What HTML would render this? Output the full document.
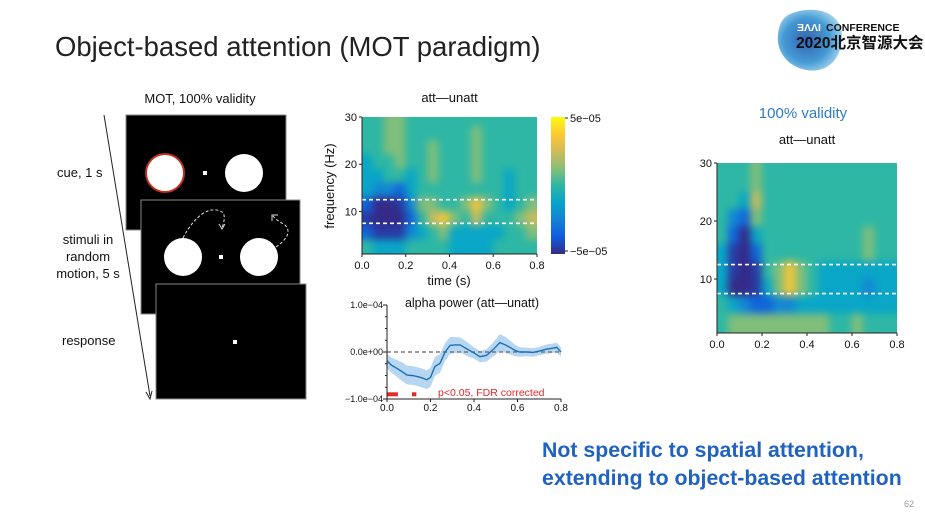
<!DOCTYPE html>
<html><head><meta charset="utf-8">
<style>
html,body{margin:0;padding:0;background:#fff;}
svg{display:block;font-family:"Liberation Sans","Noto Sans CJK SC",sans-serif;}
.blurred{filter:blur(4px);}
</style></head>
<body>
<svg id="s" width="925" height="513" viewBox="0 0 925 513" xmlns="http://www.w3.org/2000/svg">
<defs>
  <linearGradient id="parula" x1="0" y1="1" x2="0" y2="0">
    <stop offset="0" stop-color="#352a87"/><stop offset="0.125" stop-color="#0f5cdd"/>
    <stop offset="0.25" stop-color="#1481d6"/><stop offset="0.375" stop-color="#06a4ca"/>
    <stop offset="0.5" stop-color="#2eb7a4"/><stop offset="0.625" stop-color="#87bf77"/>
    <stop offset="0.75" stop-color="#d1bb59"/><stop offset="0.875" stop-color="#fec832"/>
    <stop offset="1" stop-color="#f9fb0e"/>
  </linearGradient>
  <radialGradient id="logoG" cx="0.45" cy="0.5" r="0.6">
    <stop offset="0" stop-color="#1f4fa8"/><stop offset="0.6" stop-color="#2f8fd0"/><stop offset="1" stop-color="#a9d8f0"/>
  </radialGradient>
  <clipPath id="clipM"><rect x="362" y="117" width="175" height="137"/></clipPath>
  <clipPath id="clipR"><rect x="717" y="163" width="180" height="170"/></clipPath>
</defs>

<text x="55" y="56" font-size="27.5" fill="#222">Object-based attention (MOT paradigm)</text>

<g>
  <path d="M790 14 C815 4 842 12 842 36 C842 60 826 74 806 70 C786 66 776 50 778 34 C779 24 783 17 790 14Z" fill="url(#logoG)" opacity="0.9"/>
  <text x="797" y="31" font-size="10.5" font-weight="bold" fill="#fff">ƎΛΛI</text>
  <text x="826" y="31" font-size="10.5" font-weight="bold" fill="#111">CONFERENCE</text>
  <text x="796" y="48" font-size="15.5" font-weight="bold" fill="#111">2020北京智源大会</text>
</g>

<g>
  <text x="200" y="103" font-size="13" text-anchor="middle" fill="#111">MOT, 100% validity</text>
  <line x1="104" y1="115" x2="150" y2="396" stroke="#222" stroke-width="1"/>
  <path d="M146 392 L150 399 L152 391" fill="none" stroke="#222" stroke-width="1"/>
  <text x="57" y="177" font-size="13" fill="#111">cue, 1 s</text>
  <text x="88" y="244" font-size="13" text-anchor="middle" fill="#111">stimuli in</text>
  <text x="88" y="261" font-size="13" text-anchor="middle" fill="#111">random</text>
  <text x="88" y="278" font-size="13" text-anchor="middle" fill="#111">motion, 5 s</text>
  <text x="62" y="345" font-size="13" fill="#111">response</text>
  <g>
    <rect x="126" y="115" width="160" height="115" fill="#000" stroke="#888" stroke-width="1"/>
    <circle cx="165" cy="173" r="19" fill="#fff" stroke="#c0301c" stroke-width="2"/>
    <circle cx="244" cy="173" r="19" fill="#fff"/>
    <rect x="203" y="171" width="4" height="4" fill="#fff"/>
  </g>
  <g>
    <rect x="141" y="200" width="159" height="114" fill="#000" stroke="#888" stroke-width="1"/>
    <circle cx="183" cy="257" r="19" fill="#fff"/>
    <circle cx="259" cy="257" r="19" fill="#fff"/>
    <rect x="219" y="255" width="4" height="4" fill="#fff"/>
    <path d="M183 238 C195 215 210 205 222 212 C226 215 224 222 222 228" fill="none" stroke="#ddd" stroke-width="1" stroke-dasharray="3,2"/>
    <path d="M219 224 L222 229 L225 224" fill="none" stroke="#ddd" stroke-width="1"/>
    <path d="M276 247 C286 240 292 232 285 225 C280 222 276 220 273 216" fill="none" stroke="#ddd" stroke-width="1" stroke-dasharray="3,2"/>
    <path d="M272 221 L272 215 L278 215" fill="none" stroke="#ddd" stroke-width="1"/>
  </g>
  <g>
    <rect x="156" y="284" width="150" height="115" fill="#000" stroke="#888" stroke-width="1"/>
    <rect x="233" y="340" width="4" height="4" fill="#fff"/>
  </g>
</g>

<g id="midHeat"></g>
<g id="lineChart"></g>
<g id="rightHeat"></g>

<text x="803" y="118" font-size="15" text-anchor="middle" fill="#2d7cc8">100% validity</text>

<text x="542" y="457" font-size="21.3" font-weight="bold" fill="#1f62c0">Not specific to spatial attention,</text>
<text x="542" y="485" font-size="21.3" font-weight="bold" fill="#1f62c0">extending to object-based attention</text>
<text x="909" y="507" font-size="9" fill="#999" text-anchor="middle">62</text>
</svg>

<script>
const NS = "http://www.w3.org/2000/svg";
const timeEdges = [0,0.05,0.1,0.15,0.2,0.25,0.3,0.35,0.4,0.45,0.5,0.55,0.6,0.65,0.7,0.75,0.8];
const freqEdges = [30,28,25,22,19,16,13,10,7,4,1];
const heatTickX = ["0.0","0.2","0.4","0.6","0.8"];
const heatTickY = [10,20,30];
const bandFreqs = [12.5,7.5];
const midValues = [
 [0,0,1,1,0,0,0,0,0,0,0,0,0,0,0,0],
 [0,0,1,1,0,0,0,0,0,0,1,0,0,0,0,0],
 [0,0,1,1,0,0,1,0,0,0,1,0,0,0,0,0],
 [-1,0,0,1,0,0,1,0,0,0,1,0,0,0,0,0],
 [-1,-1,0,0,-1,0,1,0,0,0,1,0,0,-1,0,0],
 [-1,-2,-2,-3,-1,0,0,0,0,0,0,0,0,-1,0,0],
 [-3,-5,-5,-4,-2,1,1,0,0,1,3,1,0,-1,0,1],
 [-4,-5,-5,-5,-3,0,2,3,1,0,2,0,0,0,1,2],
 [-3,-4,-4,-4,-2,-1,0,1,-1,-1,-1,-1,-1,0,0,1],
 [0,-1,-1,-1,0,0,0,0,-1,-1,-1,-1,0,0,0,0]
];
const rightValues = [
 [0,0,0,1,0,0,0,0,0,0,0,0,0,0,0,0],
 [0,0,0,1,0,0,0,0,0,0,0,0,0,0,0,0],
 [0,0,-1,2,0,0,0,0,0,0,0,0,0,0,0,0],
 [0,-2,-3,1,0,0,0,0,0,0,0,0,0,0,0,0],
 [0,-3,-5,-1,0,0,0,0,0,0,0,0,0,1,0,0],
 [-1,-4,-5,-3,0,0,0,0,0,0,0,0,0,1,0,0],
 [-1,-4,-5,-4,0,1,3,1,0,-1,-1,-1,-1,-1,-1,-1],
 [-1,-5,-5,-4,-1,1,3,1,0,-1,-1,-1,-1,-2,-1,-1],
 [0,-1,-2,-3,-3,-2,-2,-1,-1,-1,-1,-1,-1,-1,-1,-1],
 [0,1,1,1,1,1,1,1,1,1,0,0,1,0,0,0]
];
const lineTimes = [0,0.02,0.046,0.07,0.092,0.115,0.137,0.16,0.183,0.2,0.22,0.244,0.267,0.29,0.31,0.336,0.366,0.4,0.427,0.458,0.49,0.519,0.545,0.565,0.59,0.61,0.64,0.672,0.7,0.733,0.763,0.78,0.8];
const lineValues = [-1.9,-2.8,-3.5,-4.2,-4.9,-5.0,-5.2,-5.5,-5.9,-5.4,-3.1,-2.4,0,1.4,1.5,1.5,0.7,-0.2,-1.0,-0.7,0.6,2.0,1.5,1.0,0.3,0,0,-0.1,0.2,0.6,0.8,1.0,0];
const lineErr = [1.5,1.6,1.8,2.0,2.0,2.0,2.0,2.0,2.0,2.0,2.0,2.0,1.9,1.8,1.7,1.6,1.5,1.2,1.2,1.3,1.5,1.8,1.7,1.5,1.2,1.0,0.9,0.9,0.9,1.0,1.0,1.0,1.0];
const sigSpans = [[0,0.05],[0.115,0.135]];
const lineTickX = ["0.0","0.2","0.4","0.6","0.8"];
const lineTickY = ["1.0e\u221204","0.0e+00","\u22121.0e\u221204"];
const lineTickYVals = [10,0,-10];

const stops = [[53,42,135],[15,92,221],[20,129,214],[6,164,202],[46,183,164],[135,191,119],[209,187,89],[254,200,50],[249,251,14]];
function parula(v){
  let t=(v*1.15+5)/10; t=Math.max(0,Math.min(1,t))*8;
  const i=Math.min(7,Math.floor(t)), f=t-i, a=stops[i], b=stops[i+1];
  return "rgb("+a.map((c,k)=>Math.round(c+(b[k]-c)*f)).join(",")+")";
}
function mk(tag, attrs, parent){
  const e=document.createElementNS(NS,tag);
  for(const k in attrs) e.setAttribute(k,attrs[k]);
  parent.appendChild(e); return e;
}
function txt(parent,x,y,s,size,anchor,fill){
  const t=mk("text",{x:x,y:y,"font-size":size,"text-anchor":anchor||"middle",fill:fill||"#111"},parent);
  t.textContent=s; return t;
}

function heatmap(gId, values, box, clipId, opts){
  const g=document.getElementById(gId);
  const x=t=>box.x0+t/0.8*(box.x1-box.x0);
  const y=f=>box.yb+(f-box.fb)/(30-box.fb)*(box.y30-box.yb);
  const cells=mk("g",{"clip-path":"url(#"+clipId+")"},g);
  
  
  const inner=mk("g",{"class":"blurred"},cells);
  mk("rect",{x:box.x0-12,y:y(30)-12,width:box.x1-box.x0+24,height:y(box.fb)-y(30)+24,fill:parula(0)},inner);
  for(let r=0;r<values.length;r++){
    for(let c=0;c<values[r].length;c++){
      let x0=x(timeEdges[c]), x1=x(timeEdges[c+1]);
      let y0=y(Math.min(30,freqEdges[r])), y1=y(Math.max(box.fb,freqEdges[r+1]));
      if(c===0) x0-=12; if(c===values[r].length-1) x1+=12;
      if(r===0) y0-=12; if(r===values.length-1) y1+=12;
      const cell=mk("rect",{x:x0-0.3,y:y0-0.3,width:x1-x0+0.6,height:y1-y0+0.6,fill:parula(values[r][c])},inner);
      
      
    }
  }
  bandFreqs.forEach(f=>{
    const l=mk("line",{x1:box.x0,x2:box.x1,y1:y(f),y2:y(f),stroke:"#fff","stroke-width":1.6,"stroke-dasharray":"4,3"},g);
    
    
  });
  const ax=mk("g",{},g);
  
  
  mk("line",{x1:box.x0,x2:box.x0,y1:y(30),y2:y(box.fb),stroke:"#222","stroke-width":1},ax);
  mk("line",{x1:box.x0,x2:box.x1,y1:y(box.fb),y2:y(box.fb),stroke:"#222","stroke-width":1},ax);
  heatTickX.forEach(s=>{
    const xx=x(parseFloat(s));
    mk("line",{x1:xx,x2:xx,y1:y(box.fb),y2:y(box.fb)+3,stroke:"#222"},ax);
    const t=txt(ax,xx,y(box.fb)+15,s,11);
    
    
  });
  heatTickY.forEach(v=>{
    mk("line",{x1:box.x0-3,x2:box.x0,y1:y(v),y2:y(v),stroke:"#222"},ax);
    const t=txt(ax,box.x0-5,y(v)+4,String(v),11,"end");
    
    
  });
  const tt=txt(g,(box.x0+box.x1)/2,opts.titleY,"att\u2014unatt",13);
  
  
}

const midBox={x0:362,x1:537,y30:117,yb:254,fb:1};
heatmap("midHeat",midValues,midBox,"clipM",{titleY:102});
(function(){
  const g=document.getElementById("midHeat");
  const xl=txt(g,449,285,"time (s)",13);
  
  
  const yl=txt(g,0,0,"frequency (Hz)",13);
  yl.setAttribute("transform","translate(334,186) rotate(-90)");
  
  
  const cb=mk("rect",{x:551,y:117,width:14,height:137,fill:"url(#parula)"},g);
  
  
  mk("line",{x1:565,x2:568,y1:118,y2:118,stroke:"#222"},g);
  mk("line",{x1:565,x2:568,y1:251,y2:251,stroke:"#222"},g);
  const c1=txt(g,570,122,"5e\u221205",11,"start");
  
  
  const c2=txt(g,570,255,"\u22125e\u221205",11,"start");
  
  
})();

const rightBox={x0:717,x1:897,y30:163,yb:333,fb:0.7};
heatmap("rightHeat",rightValues,rightBox,"clipR",{titleY:144});

(function(){
  const g=document.getElementById("lineChart");
  const X0=387,X1=561,Ytop=305,Ybot=399;
  const x=t=>X0+t/0.8*(X1-X0);
  const y=v=>Ybot+(v+10)/20*(Ytop-Ybot);
  let up="";
  lineTimes.forEach((t,i)=>{up+=(i?"L":"M")+x(t)+" "+y(lineValues[i]+lineErr[i]);});
  for(let i=lineTimes.length-1;i>=0;i--) up+="L"+x(lineTimes[i])+" "+y(lineValues[i]-lineErr[i]);
  const band=mk("path",{d:up+"Z",fill:"#a9cfee",opacity:0.85},g);
  
  
  const zl=mk("line",{x1:X0,x2:X1,y1:y(0),y2:y(0),stroke:"#666","stroke-width":1.3,"stroke-dasharray":"4,3"},g);
  
  
  let d="";
  lineTimes.forEach((t,i)=>{d+=(i?"L":"M")+x(t)+" "+y(lineValues[i]);});
  const ln=mk("path",{d:d,fill:"none",stroke:"#1f6fb4","stroke-width":1.4},g);
  
  
  sigSpans.forEach(s=>{
    const r=mk("rect",{x:x(s[0]),y:y(-9)-2,width:x(s[1])-x(s[0]),height:4,fill:"#e8262a"},g);
    
    
  });
  const p=txt(g,438,396,"p<0.05, FDR corrected",10.5,"start","#e8262a");
  
  
  mk("line",{x1:X0,x2:X0,y1:Ytop,y2:Ybot,stroke:"#222"},g);
  mk("line",{x1:X0,x2:X1,y1:Ybot,y2:Ybot,stroke:"#222"},g);
  for(let v=-10;v<=10;v+=2.5) mk("line",{x1:X0-2,x2:X0,y1:y(v),y2:y(v),stroke:"#222"},g);
  lineTickYVals.forEach((v,i)=>{
    mk("line",{x1:X0-4,x2:X0,y1:y(v),y2:y(v),stroke:"#222"},g);
    const t=txt(g,X0-4,y(v)+3,lineTickY[i],9,"end");
    
    
  });
  lineTickX.forEach(s=>{
    const xx=x(parseFloat(s));
    mk("line",{x1:xx,x2:xx,y1:Ybot,y2:Ybot+3,stroke:"#222"},g);
    const t=txt(g,xx,Ybot+12,s,10);
    
    
  });
  const tt=txt(g,472,307,"alpha power (att\u2014unatt)",12.5);
  
  
})();
</script>
</body></html>
